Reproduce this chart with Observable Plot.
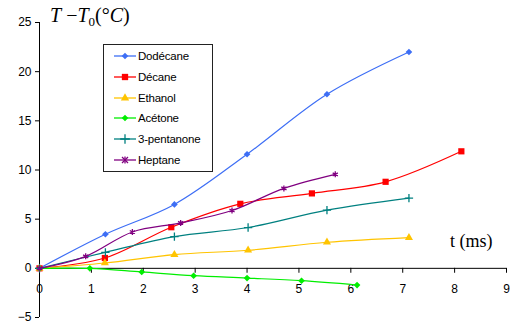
<!DOCTYPE html>
<html><head><meta charset="utf-8">
<script src="https://cdn.jsdelivr.net/npm/d3@7"></script>
<script src="https://cdn.jsdelivr.net/npm/@observablehq/plot@0.6"></script>
<style>
body{margin:0;background:#fff;}
#wrap{position:relative;width:513px;height:326px;overflow:hidden;}
#title{position:absolute;left:50px;top:4px;font-family:"Liberation Serif",serif;font-size:20px;color:#000;white-space:nowrap;}
#xlab{position:absolute;left:450px;top:231px;font-family:"Liberation Serif",serif;font-size:18px;color:#000;white-space:nowrap;}
#legend{position:absolute;left:103px;top:44px;width:108px;height:126px;border:1.3px solid #222;background:#fff;font-family:"Liberation Sans",Arial,sans-serif;font-size:11.5px;letter-spacing:-0.2px;}
.item{position:absolute;left:0;height:16px;display:flex;align-items:center;}
.item svg{margin-left:10px;margin-right:2px;}
</style></head>
<body><div id="wrap"></div>
<script>
const xTicks = [0,1,2,3,4,5,6,7,8,9];
const yTicks = [-5,0,5,10,15,20,25];
const seriesNames = ["Dodécane","Décane","Ethanol","Acétone","3-pentanone","Heptane"];
const seriesColors = ["#3d6ef5","#ff0000","#ffc400","#00ee00","#008080","#800080"];
const seriesSymbols = ["diamond2","square","triangle","diamond2","plus","asterisk"];
const dodecaneT = [0,1.27,2.6,4.0,5.54,7.12];
const dodecaneV = [0,3.47,6.5,11.6,17.7,22.0];
const decaneT = [0,1.26,2.54,3.87,5.25,6.67,8.13];
const decaneV = [0,1.05,4.18,6.56,7.62,8.8,11.9];
const ethanolT = [0,1.26,2.6,4.02,5.54,7.12];
const ethanolV = [0,0.54,1.4,1.84,2.65,3.13];
const acetoneT = [0,0.97,1.97,2.97,4.0,5.05,6.12];
const acetoneV = [0,0,-0.37,-0.75,-0.99,-1.26,-1.7];
const pentanoneT = [0,1.27,2.6,4.02,5.54,7.12];
const pentanoneV = [0,1.63,3.23,4.15,5.92,7.14];
const heptaneT = [0,0.89,1.79,2.72,3.71,4.71,5.7];
const heptaneV = [0,1.22,3.7,4.62,5.88,8.13,9.56];

const Ts = [dodecaneT,decaneT,ethanolT,acetoneT,pentanoneT,heptaneT];
const Vs = [dodecaneV,decaneV,ethanolV,acetoneV,pentanoneV,heptaneV];
const series = seriesNames.map((name,i)=>({
  name, color: seriesColors[i], symbol: seriesSymbols[i],
  rows: Ts[i].map((t,j)=>({t, v: Vs[i][j]}))
}));
const strokeSymbols = new Set(["plus","asterisk","times","cross"]);
const symbolR = {diamond2:3.0, square:3.5, triangle:3.0, plus:2.8, asterisk:2.8};

const marks = [
  Plot.ruleX([0], {stroke:"#000", strokeWidth:1}),
  Plot.axisY(yTicks, {tickSize:4, tickPadding:4, fontSize:12, label:null, stroke:"#000"}),
  Plot.ruleY([0], {stroke:"#000", strokeWidth:1}),
  Plot.ruleX(xTicks, {x:d=>d, y1:0, y2:-0.5, stroke:"#000"}),
  Plot.text(xTicks, {x:d=>d, y:0, dy:21, text:d=>String(d), fontSize:12, fill:"#000"})
];
for (const s of series) {
  marks.push(Plot.line(s.rows, {x:"t", y:"v", stroke:s.color, strokeWidth:1.2, curve:"catmull-rom"}));
  if (strokeSymbols.has(s.symbol)) {
    marks.push(Plot.dot(s.rows, {x:"t", y:"v", symbol:s.symbol, stroke:s.color, strokeWidth:1.3, r:symbolR[s.symbol]}));
  } else {
    marks.push(Plot.dot(s.rows, {x:"t", y:"v", symbol:s.symbol, fill:s.color, stroke:"none", r:symbolR[s.symbol]}));
  }
}

const chart = Plot.plot({
  width:513, height:326,
  marginLeft:39, marginRight:7, marginTop:22, marginBottom:9,
  x:{domain:[0,9], axis:null},
  y:{domain:[-5,25]},
  style:{fontFamily:"Liberation Sans, Arial, sans-serif", fontSize:"12px", color:"#000", background:"#fff"},
  marks
});
const wrap = document.getElementById("wrap");
wrap.appendChild(chart);

const title = document.createElement("div");
title.id = "title";
title.innerHTML = '<i>T</i> \u2212<i>T</i><sub style="font-size:13px;vertical-align:-4px">0</sub>(°<i>C</i>)';
wrap.appendChild(title);

const xlab = document.createElement("div");
xlab.id = "xlab";
xlab.textContent = "t (ms)";
wrap.appendChild(xlab);

const legend = document.createElement("div");
legend.id = "legend";
series.forEach((s,i)=>{
  const item = document.createElement("div");
  item.className = "item";
  item.style.top = (3 + i*20.8) + "px";
  const svg = d3.create("svg").attr("width",22).attr("height",12);
  svg.append("line").attr("x1",0).attr("x2",22).attr("y1",6).attr("y2",6).attr("stroke",s.color).attr("stroke-width",1.3);
  const isStroke = strokeSymbols.has(s.symbol);
  if (s.symbol==="asterisk") {
    const g = svg.append("g").attr("stroke",s.color).attr("stroke-width",1.3);
    g.append("line").attr("x1",11).attr("x2",11).attr("y1",2.5).attr("y2",9.5);
    g.append("line").attr("x1",8).attr("x2",14).attr("y1",3).attr("y2",9);
    g.append("line").attr("x1",14).attr("x2",8).attr("y1",3).attr("y2",9);
  } else {
    let symType = d3.symbolDiamond2, sz = 28;
    if (s.symbol==="square") { symType = d3.symbolSquare; sz = 40; }
    else if (s.symbol==="triangle") { symType = d3.symbolTriangle; sz = 30; }
    else if (s.symbol==="plus") { symType = d3.symbolPlus; sz = 32; }
    const p = svg.append("path").attr("transform","translate(11,6)").attr("d", d3.symbol(symType, sz)());
    if (isStroke) p.attr("fill","none").attr("stroke",s.color).attr("stroke-width",1.3);
    else p.attr("fill",s.color);
  }
  item.appendChild(svg.node());
  const label = document.createElement("span");
  label.textContent = s.name;
  item.appendChild(label);
  legend.appendChild(item);
});
wrap.appendChild(legend);
</script>
</body></html>
